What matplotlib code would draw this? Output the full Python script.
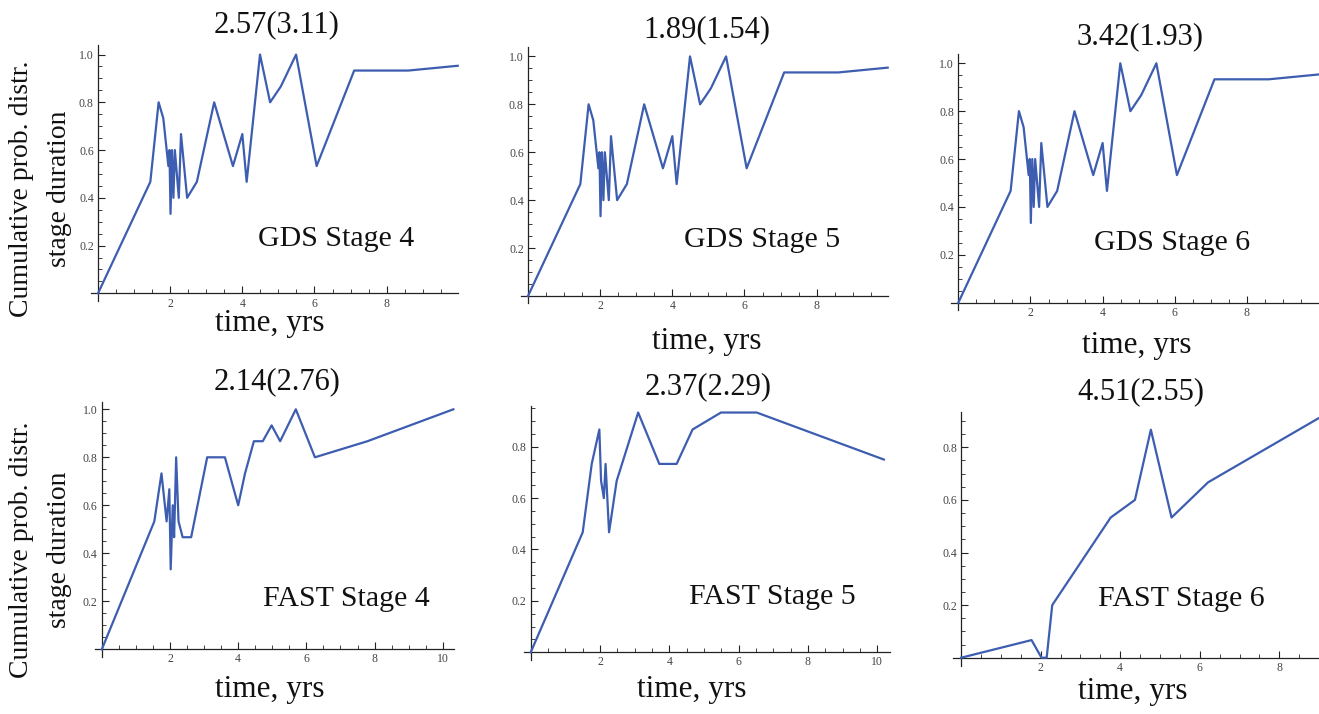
import matplotlib
matplotlib.use("Agg")
import matplotlib.pyplot as plt
from matplotlib.ticker import FixedLocator, FuncFormatter

# ---------------- data ----------------
gds_t = [0, 1.45, 1.68, 1.81, 1.95, 1.98, 2.01, 2.05, 2.09, 2.13, 2.24, 2.30, 2.47, 2.74,
         3.22, 3.74, 4.0, 4.12, 4.49, 4.77, 5.07, 5.49, 6.06, 7.1, 8.6, 9.97]
gds_p = [0, 0.467, 0.8, 0.733, 0.533, 0.6, 0.333, 0.6, 0.4, 0.6, 0.4, 0.667, 0.4, 0.467,
         0.8, 0.533, 0.667, 0.467, 1.0, 0.8, 0.867, 1.0, 0.533, 0.933, 0.933, 0.953]

fast4_t = [0, 1.54, 1.75, 1.90, 1.98, 2.02, 2.08, 2.12, 2.18, 2.25, 2.37, 2.62, 3.09, 3.61,
           4.0, 4.2, 4.46, 4.72, 4.98, 5.23, 5.69, 6.25, 7.79, 10.31]
fast4_p = [0, 0.533, 0.733, 0.533, 0.667, 0.333, 0.6, 0.467, 0.8, 0.533, 0.467, 0.467, 0.8, 0.8,
           0.6, 0.733, 0.867, 0.867, 0.933, 0.867, 1.0, 0.8, 0.867, 1.0]

fast5_t = [0, 1.50, 1.76, 1.98, 2.03, 2.11, 2.16, 2.26, 2.48, 3.10, 3.71, 4.21, 4.67, 5.49, 6.52, 10.19]
fast5_p = [0, 0.467, 0.733, 0.867, 0.667, 0.6, 0.733, 0.467, 0.667, 0.933, 0.733, 0.733, 0.867,
           0.933, 0.933, 0.75]

fast6_t = [0, 1.77, 2.02, 2.15, 2.29, 3.76, 4.37, 4.77, 5.29, 6.21, 8.98]
fast6_p = [0, 0.067, 0, 0, 0.2, 0.533, 0.6, 0.867, 0.533, 0.667, 0.91]

titles = ["2.57(3.11)", "1.89(1.54)", "3.42(1.93)", "2.14(2.76)", "2.37(2.29)", "4.51(2.55)"]
stage_labels = ["GDS Stage 4", "GDS Stage 5", "GDS Stage 6",
                "FAST Stage 4", "FAST Stage 5", "FAST Stage 6"]
xlabel = "time, yrs"
ylabel_lines = ["Cumulative prob. distr.", "stage duration"]

series = [(gds_t, gds_p), (gds_t, gds_p), (gds_t, gds_p),
          (fast4_t, fast4_p), (fast5_t, fast5_p), (fast6_t, fast6_p)]

# ---------------- layout (pixels) ----------------
W, H = 1319, 714
plt.rcParams['font.family'] = ['Liberation Serif', 'DejaVu Serif']
fig = plt.figure(figsize=(W / 100, H / 100), dpi=100)

# left, right, top, bottom in px ; xlim ; ylim
panels = [
    (90.8, 457.7, 45.0, 300.5, (-0.2, 9.97), (-0.03, 1.04)),
    (520.8, 887.7, 46.8, 303.2, (-0.2, 9.97), (-0.03, 1.04)),
    (951.1, 1318.0, 53.7, 309.9, (-0.2, 9.97), (-0.03, 1.04)),
    (95.0, 453.7, 402.1, 656.5, (-0.2, 10.32), (-0.03, 1.03)),
    (523.8, 890.1, 406.1, 660.0, (-0.2, 10.37), (-0.03, 0.958)),
    (953.2, 1318.3, 411.8, 665.6, (-0.2, 8.98), (-0.03, 0.935)),
]
title_pos = [(277, 25), (707, 30), (1140, 37), (277, 382), (708, 387), (1141, 392)]
stage_pos = [(336, 239), (762, 240), (1172, 243), (346, 599), (772, 597), (1181, 599)]
xlab_pos = [(270, 324), (707, 341), (1137, 345), (270, 689), (692, 689), (1133, 692)]

line_color = '#3D5DB0'

def fmt_y(v, pos):
    return "%.1f" % v

for i, (l, r, t, b, xl, yl) in enumerate(panels):
    ax = fig.add_axes([l / W, 1 - b / H, (r - l) / W, (b - t) / H])
    x, y = series[i]
    ax.plot(x, y, color=line_color, lw=1.6, clip_on=False, zorder=3)
    ax.set_xlim(*xl)
    ax.set_ylim(*yl)
    for s in ['top', 'right']:
        ax.spines[s].set_visible(False)
    ax.spines['left'].set_position(('data', 0))
    ax.spines['bottom'].set_position(('data', 0))
    for s in ['left', 'bottom']:
        ax.spines[s].set_linewidth(0.9)
        ax.spines[s].set_color('#222222')
    ax.patch.set_alpha(0)
    xmaj = [v for v in range(2, 11, 2) if v <= xl[1]]
    ax.xaxis.set_major_locator(FixedLocator(xmaj))
    ax.xaxis.set_minor_locator(FixedLocator([k * 0.5 for k in range(1, 22) if k * 0.5 <= xl[1] and k % 4 != 0]))
    ymaj = [round(0.2 * k, 1) for k in range(1, 6) if 0.2 * k <= yl[1] + 1e-9]
    ax.yaxis.set_major_locator(FixedLocator(ymaj))
    ax.yaxis.set_minor_locator(FixedLocator([k * 0.05 for k in range(1, 21) if k * 0.05 <= yl[1] and k % 4 != 0]))
    ax.yaxis.set_major_formatter(FuncFormatter(fmt_y))
    ax.tick_params(which='major', direction='in', length=5, width=0.8, colors='#222222',
                   labelsize=8.5, labelcolor='#444444', pad=3)
    ax.tick_params(which='minor', direction='in', length=3, width=0.6, colors='#222222')

    fig.text(title_pos[i][0] / W, 1 - title_pos[i][1] / H, titles[i], fontsize=22,
             ha='center', va='center', color='#111111')
    fig.text(stage_pos[i][0] / W, 1 - stage_pos[i][1] / H, stage_labels[i], fontsize=21.5,
             ha='center', va='center', color='#111111')
    fig.text(xlab_pos[i][0] / W, 1 - xlab_pos[i][1] / H, xlabel, fontsize=22.5,
             ha='center', va='center', color='#111111')

for cy in (189, 550):
    fig.text(22 / W, 1 - cy / H, ylabel_lines[0], fontsize=20, rotation=90,
             ha='center', va='center', color='#111111')
    fig.text(60 / W, 1 - cy / H, ylabel_lines[1], fontsize=20, rotation=90,
             ha='center', va='center', color='#111111')

fig.savefig("out.png", dpi=100)
